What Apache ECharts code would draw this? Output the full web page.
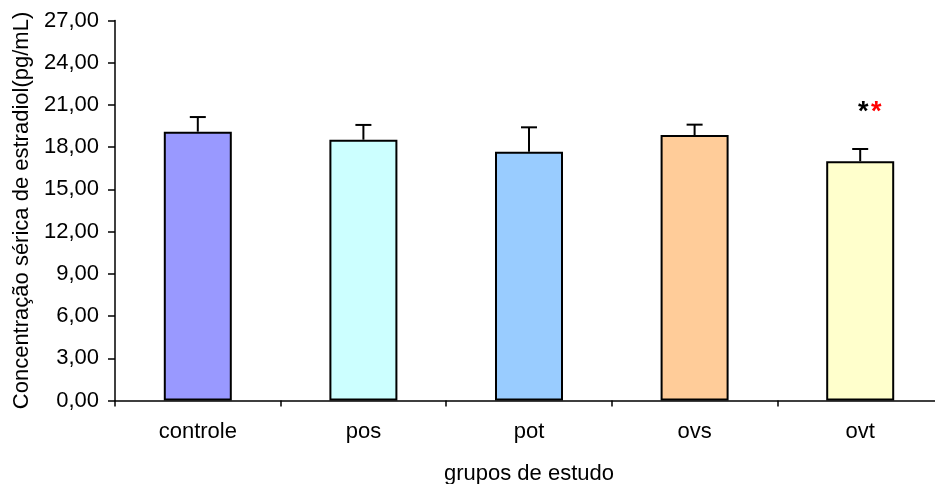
<!DOCTYPE html>
<html>
<head>
<meta charset="utf-8">
<script src="https://cdn.jsdelivr.net/npm/echarts@6/dist/echarts.min.js"></script>
<style>
html, body { margin: 0; padding: 0; background: #fff; }
#chart { width: 935px; height: 484px; }
</style>
</head>
<body>
<div id="chart"></div>
<script>
// Serum estradiol by study group (mean and standard deviation)
var groups = ['controle', 'pos', 'pot', 'ovs', 'ovt'];
var means = [19.10, 18.53, 17.68, 18.86, 17.00];
var sds = [1.04, 1.05, 1.73, 0.74, 0.87];
var barColors = ['#9999FF', '#CCFFFF', '#99CCFF', '#FFCC99', '#FFFFCC'];
var yTicks = [0, 3, 6, 9, 12, 15, 18, 21, 24, 27];
// Significance marks shown above the ovt group
var sigGroup = 'ovt';
var sigLevel = 20.85;

var FONT = '"Liberation Sans", Arial, sans-serif';

var chart = echarts.init(document.getElementById('chart'), null, { renderer: 'canvas' });

var option = {
  animation: false,
  backgroundColor: '#ffffff',
  grid: { left: 115, top: 20.5, width: 828, height: 380, containLabel: false, outerBoundsMode: 'none' },
  xAxis: {
    type: 'category',
    data: groups,
    name: 'grupos de estudo',
    nameLocation: 'middle',
    nameGap: 62,
    nameTextStyle: { fontFamily: FONT, fontSize: 22, color: '#000' },
    axisLine: { lineStyle: { color: '#000', width: 1.5 } },
    axisTick: { show: true, length: 6, lineStyle: { color: '#000', width: 1.5 } },
    axisLabel: { fontFamily: FONT, fontSize: 22, color: '#000', margin: 20 }
  },
  yAxis: {
    type: 'value',
    min: yTicks[0],
    max: yTicks[yTicks.length - 1],
    interval: 3,
    name: 'Concentração sérica de estradiol(pg/mL)',
    nameLocation: 'middle',
    nameGap: 81,
    nameRotate: 90,
    nameTextStyle: { fontFamily: FONT, fontSize: 22, color: '#000' },
    axisLine: { show: true, lineStyle: { color: '#000', width: 1.5 } },
    axisTick: { show: true, length: 7, lineStyle: { color: '#000', width: 1.5 } },
    splitLine: { show: false },
    axisLabel: {
      fontFamily: FONT, fontSize: 22, color: '#000', margin: 16,
      formatter: function (v) { return v.toFixed(2).replace('.', ','); }
    }
  },
  series: [
    {
      type: 'bar',
      barWidth: 68,
      data: means.map(function (m, i) {
        return {
          value: m,
          itemStyle: { color: barColors[i], borderColor: '#000', borderWidth: 2 }
        };
      }),
      z: 2
    },
    {
      type: 'custom',
      z: 3,
      data: means.map(function (m, i) { return [i, m, m + sds[i]]; }),
      renderItem: function (params, api) {
        var base = api.coord([api.value(0), api.value(1)]);
        var top = api.coord([api.value(0), api.value(2)]);
        var half = 8;
        return {
          type: 'group',
          children: [
            { type: 'line', shape: { x1: base[0], y1: base[1], x2: top[0], y2: top[1] },
              style: { stroke: '#000', lineWidth: 2 } },
            { type: 'line', shape: { x1: top[0] - half, y1: top[1], x2: top[0] + half, y2: top[1] },
              style: { stroke: '#000', lineWidth: 2 } }
          ]
        };
      }
    },
    {
      type: 'custom',
      z: 4,
      data: [[groups.indexOf(sigGroup), sigLevel]],
      renderItem: function (params, api) {
        var p = api.coord([api.value(0), api.value(1)]);
        return {
          type: 'group',
          children: [
            { type: 'text', x: p[0] + 3, y: p[1] + 5,
              style: { text: '*', fill: '#000', font: 'bold 27px ' + FONT, align: 'center', verticalAlign: 'middle' } },
            { type: 'text', x: p[0] + 16, y: p[1] + 5,
              style: { text: '*', fill: '#ff0000', font: 'bold 27px ' + FONT, align: 'center', verticalAlign: 'middle' } }
          ]
        };
      }
    }
  ]
};

chart.setOption(option);
</script>
</body>
</html>
